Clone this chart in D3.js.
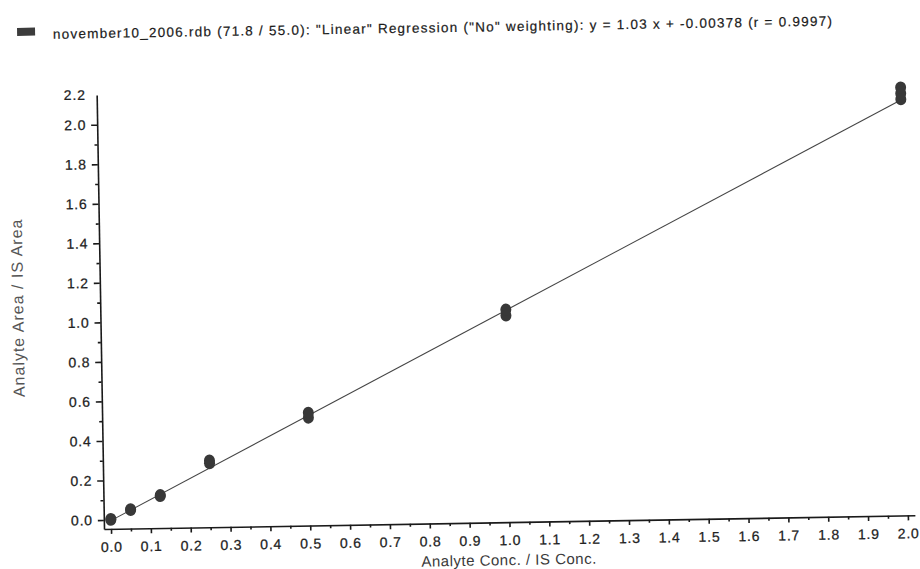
<!DOCTYPE html>
<html>
<head>
    <title>Calibration Curve</title>
    <script src="https://cdnjs.cloudflare.com/ajax/libs/d3/7.8.5/d3.min.js"></script>
    <style>
        body { margin: 0; background: #fff; }
        text { font-family: "Liberation Sans", Arial, sans-serif; }
    </style>
</head>
<body>
    <div id="chart"></div>
    <script>
        // calibration replicates
        var concLevels = [0, 0, 0.05, 0.05, 0.125, 0.125, 0.25, 0.25, 0.5, 0.5, 1.0, 1.0, 2.0, 2.0, 2.0];
        var areaRatios = [0.0, 0.005, 0.048, 0.052, 0.116, 0.121, 0.278, 0.292, 0.50, 0.525, 1.0, 1.03, 2.06, 2.09, 2.12];

        var slope = 1.03;
        var intercept = -0.00378;

        var xTicks = [0, 0.1, 0.2, 0.3, 0.4, 0.5, 0.6, 0.7, 0.8, 0.9, 1.0, 1.1, 1.2, 1.3, 1.4, 1.5, 1.6, 1.7, 1.8, 1.9, 2.0];
        var yTicks = [0, 0.2, 0.4, 0.6, 0.8, 1.0, 1.2, 1.4, 1.6, 1.8, 2.0];
        var yTopLabel = "2.2";

        var titleText = 'november10_2006.rdb (71.8 / 55.0): "Linear" Regression ("No" weighting): y = 1.03 x + -0.00378 (r = 0.9997)';

        var width = 920, height = 569;

        var svg = d3.select("#chart").append("svg")
            .attr("width", width)
            .attr("height", height);

        // the scan is tilted about one degree, so draw everything in a rotated frame
        var g = svg.append("g")
            .attr("transform", "translate(104,529) rotate(-0.97)");

        var x = d3.scaleLinear().domain([-0.0176, 2.0176]).range([0, 811]);
        var y = d3.scaleLinear().domain([-0.0456, 2.15]).range([0, -434]);

        var minorX = d3.range(0.05, 2.0, 0.1);
        var minorY = d3.range(0.1, 2.1, 0.2);

        // x axis
        g.append("g")
            .call(d3.axisBottom(x).tickValues(xTicks).tickSize(5).tickSizeOuter(0).tickPadding(8)
                .tickFormat(d3.format(".1f")));
        g.append("g")
            .call(d3.axisBottom(x).tickValues(minorX).tickSize(3).tickFormat(""))
            .select(".domain").remove();

        // y axis
        g.append("g")
            .call(d3.axisLeft(y).tickValues(yTicks).tickSize(6).tickSizeOuter(0).tickPadding(5)
                .tickFormat(d3.format(".1f")));
        g.append("g")
            .call(d3.axisLeft(y).tickValues(minorY).tickSize(3).tickFormat(""))
            .select(".domain").remove();

        g.append("text")
            .attr("x", -11)
            .attr("y", y(y.domain()[1]))
            .attr("dy", "0.32em")
            .attr("text-anchor", "end")
            .attr("class", "ticklbl")
            .text(yTopLabel);

        g.selectAll(".domain, .tick line")
            .attr("stroke", "#1a1a1a")
            .attr("stroke-width", 1.6);
        g.selectAll(".tick text, .ticklbl")
            .attr("font-family", "Liberation Sans, Arial, sans-serif")
            .style("font-size", "14px")
            .style("letter-spacing", "0.8px")
            .attr("fill", "#222")
            .attr("stroke", "#222")
            .attr("stroke-width", 0.25);

        // regression line
        var lineX = d3.extent(concLevels);
        g.append("path")
            .datum(lineX)
            .attr("d", d3.line()
                .x(function (d) { return x(d); })
                .y(function (d) { return y(slope * d + intercept); }))
            .attr("fill", "none")
            .attr("stroke", "#444")
            .attr("stroke-width", 1);

        // points
        for (var i = 0; i < concLevels.length; i++) {
            g.append("ellipse")
                .attr("cx", x(concLevels[i]))
                .attr("cy", y(areaRatios[i]))
                .attr("rx", 5.5)
                .attr("ry", 6)
                .attr("fill", "#383838");
        }

        // axis titles
        g.append("text")
            .attr("x", 404.5)
            .attr("y", 43)
            .attr("text-anchor", "middle")
            .style("font-size", "15px")
            .style("letter-spacing", "0.5px")
            .attr("fill", "#3a3a3a")
            .text("Analyte Conc. / IS Conc.");

        g.append("text")
            .attr("transform", "translate(-77,-222.5) rotate(-90)")
            .attr("text-anchor", "middle")
            .style("font-size", "16px")
            .style("letter-spacing", "1px")
            .attr("fill", "#555")
            .text("Analyte Area / IS Area");

        // legend / title
        g.append("rect")
            .attr("x", -78.5)
            .attr("y", -502.5)
            .attr("width", 18)
            .attr("height", 8)
            .attr("fill", "#3c3c3c");

        g.append("text")
            .attr("x", -42.7)
            .attr("y", -491)
            .attr("textLength", 779)
            .attr("lengthAdjust", "spacing")
            .style("font-size", "13.5px")
            .attr("fill", "#1a1a1a")
            .attr("stroke", "#1a1a1a")
            .attr("stroke-width", 0.2)
            .text(titleText);
    </script>
</body>
</html>
